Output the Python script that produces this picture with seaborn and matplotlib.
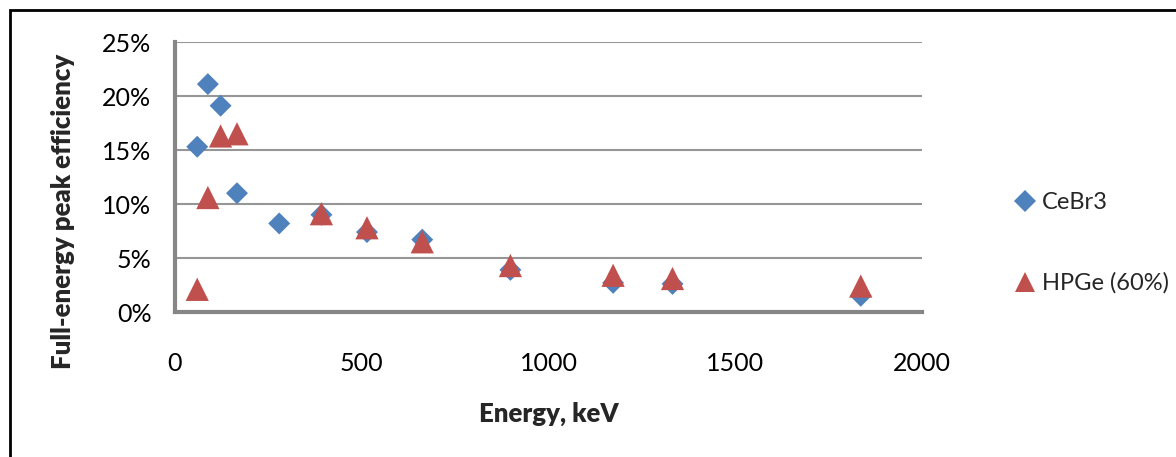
import matplotlib
matplotlib.use("Agg")
import matplotlib.pyplot as plt
import matplotlib.patches as mpatches
from matplotlib.lines import Line2D
from matplotlib.ticker import FuncFormatter
import seaborn as sns
import pandas as pd

cebr3_energy = [59.5, 88, 122, 166, 279, 392, 514, 662, 898, 1173, 1332, 1836]
cebr3_eff = [15.3, 21.1, 19.1, 11.0, 8.2, 9.0, 7.4, 6.7, 3.9, 2.7, 2.6, 1.5]
hpge_energy = [59.5, 88, 122, 166, 392, 514, 662, 898, 1173, 1332, 1836]
hpge_eff = [2.1, 10.6, 16.3, 16.5, 9.1, 7.8, 6.5, 4.3, 3.4, 3.1, 2.4]
series_names = ["CeBr3", "HPGe (60%)"]
x_ticks = [0, 500, 1000, 1500, 2000]
y_ticks = [0, 5, 10, 15, 20, 25]

df = pd.concat([
    pd.DataFrame({"Energy": cebr3_energy, "Eff": cebr3_eff, "Series": series_names[0]}),
    pd.DataFrame({"Energy": hpge_energy, "Eff": hpge_eff, "Series": series_names[1]}),
])

sns.set_style("white")
plt.rcParams["font.family"] = ["Lato", "DejaVu Sans"]

W, H = 1176, 457
fig = plt.figure(figsize=(W / 100, H / 100), dpi=100)
ax = fig.add_axes([175 / W, 1 - 312 / H, (922 - 175) / W, (312 - 42) / H])

colors = {"CeBr3": "#4F81BD", "HPGe (60%)": "#C0504D"}
markers = {"CeBr3": "D", "HPGe (60%)": "^"}
sizes = {"CeBr3": 125, "HPGe (60%)": 280}
sns.scatterplot(data=df, x="Energy", y="Eff", hue="Series", style="Series",
                size="Series", sizes=sizes,
                palette=colors, markers=markers, linewidth=0,
                ax=ax, legend=False, zorder=3)

ax.set_xlim(0, 2000)
ax.set_ylim(0, 25)
ax.set_xticks(x_ticks)
ax.set_yticks(y_ticks)
ax.yaxis.set_major_formatter(FuncFormatter(lambda v, p: f"{int(v)}%"))
ax.grid(axis="y", color="#969696", linewidth=1.5)
ax.grid(axis="x", visible=False)
for side in ["top", "right"]:
    ax.spines[side].set_visible(False)
for side in ["left", "bottom"]:
    ax.spines[side].set_color("#868686")
    ax.spines[side].set_linewidth(3)
ax.tick_params(axis="both", which="both", direction="out", length=7, width=3,
               color="#868686", labelsize=18, labelcolor="black")
ax.tick_params(axis="y", pad=10)
ax.tick_params(axis="x", pad=22)
ax.set_xlabel("Energy, keV", fontsize=18.5, fontweight="heavy")
ax.set_ylabel("Full-energy peak efficiency", fontsize=18.5, fontweight="heavy")
ax.xaxis.set_label_coords((549 - 175) / 747, -(414 - 312) / 270)
ax.yaxis.set_label_coords((63 - 175) / 747, (312 - 211) / 270)
ax.xaxis.label.set_va("center")
ax.yaxis.label.set_va("center")

handles = [Line2D([], [], marker=markers[n], color=colors[n], linestyle="none",
                  markersize=11 if n == "CeBr3" else 14, markeredgewidth=0)
           for n in series_names]
fig.legend(handles, series_names, loc="center left",
           bbox_to_anchor=(992 / W, 1 - 243 / H), frameon=False,
           fontsize=17, labelspacing=2.5, handletextpad=0.2, handlelength=1.0)

fig.patches.append(mpatches.Rectangle((10 / W, -0.1), 1.2, 1 - 10 / H + 0.1,
                                      transform=fig.transFigure, fill=False,
                                      edgecolor="black", linewidth=2))
fig.savefig("out.png", dpi=100)
